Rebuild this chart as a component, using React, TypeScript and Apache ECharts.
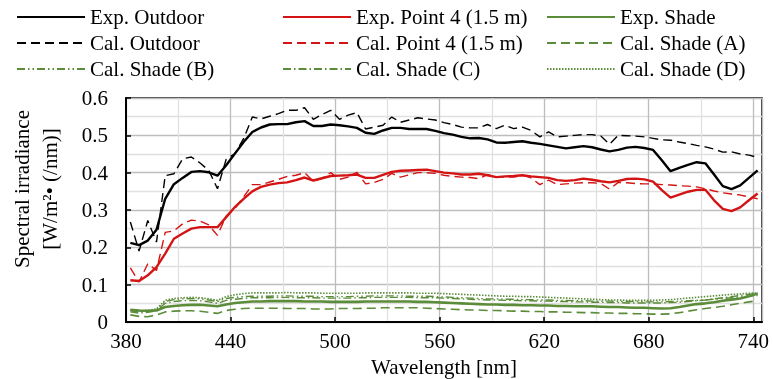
import React, { useEffect, useRef } from "react";
import * as echarts from "echarts";

// Wavelength bins (nm), 5 nm steps centred on x.5
const wavelengths: number[] = Array.from({ length: 73 }, (_, i) => 382.5 + 5 * i);

const xTicks = [380, 440, 500, 560, 620, 680, 740];

const expOutdoor = [
  0.212, 0.206, 0.218, 0.247, 0.330, 0.369, 0.386, 0.402, 0.404, 0.401,
  0.392, 0.420, 0.451, 0.482, 0.509, 0.521, 0.529, 0.530, 0.530, 0.535,
  0.538, 0.525, 0.525, 0.529, 0.527, 0.524, 0.520, 0.507, 0.504, 0.513,
  0.520, 0.520, 0.517, 0.517, 0.517, 0.512, 0.506, 0.502, 0.496, 0.492,
  0.493, 0.489, 0.481, 0.480, 0.482, 0.484, 0.480, 0.477, 0.473, 0.469,
  0.465, 0.468, 0.471, 0.468, 0.462, 0.457, 0.461, 0.467, 0.469, 0.466,
  0.461, 0.433, 0.404, 0.413, 0.421, 0.428, 0.425, 0.395, 0.364, 0.356,
  0.366, 0.386, 0.406,
];

const calOutdoor = [
  0.268, 0.190, 0.272, 0.214, 0.392, 0.397, 0.437, 0.442, 0.426, 0.406,
  0.357, 0.436, 0.451, 0.491, 0.549, 0.544, 0.551, 0.558, 0.567, 0.567,
  0.574, 0.543, 0.556, 0.567, 0.543, 0.554, 0.561, 0.517, 0.522, 0.527,
  0.549, 0.535, 0.541, 0.547, 0.544, 0.541, 0.534, 0.529, 0.522, 0.520,
  0.520, 0.529, 0.518, 0.527, 0.518, 0.522, 0.513, 0.496, 0.509, 0.496,
  0.498, 0.500, 0.502, 0.502, 0.498, 0.476, 0.500, 0.499, 0.498, 0.496,
  0.492, 0.488, 0.487, 0.482, 0.478, 0.473, 0.469, 0.463, 0.455, 0.456,
  0.450, 0.447, 0.441,
];

const expPoint4 = [
  0.112, 0.110, 0.125, 0.147, 0.183, 0.223, 0.237, 0.250, 0.254, 0.254,
  0.254, 0.281, 0.308, 0.330, 0.350, 0.362, 0.368, 0.372, 0.374, 0.380,
  0.387, 0.379, 0.385, 0.391, 0.392, 0.393, 0.395, 0.386, 0.386, 0.394,
  0.402, 0.405, 0.406, 0.407, 0.408, 0.404, 0.400, 0.398, 0.395, 0.395,
  0.397, 0.393, 0.388, 0.390, 0.391, 0.393, 0.390, 0.388, 0.386, 0.380,
  0.378, 0.380, 0.384, 0.381, 0.377, 0.374, 0.378, 0.383, 0.384, 0.382,
  0.376, 0.353, 0.333, 0.341, 0.349, 0.354, 0.354, 0.326, 0.303, 0.297,
  0.307, 0.326, 0.344,
];

const calPoint4 = [
  0.145, 0.107, 0.156, 0.138, 0.240, 0.244, 0.263, 0.273, 0.270, 0.260,
  0.232, 0.284, 0.304, 0.335, 0.368, 0.368, 0.375, 0.382, 0.390, 0.393,
  0.400, 0.377, 0.385, 0.400, 0.382, 0.388, 0.401, 0.370, 0.374, 0.382,
  0.398, 0.388, 0.394, 0.400, 0.400, 0.398, 0.393, 0.390, 0.388, 0.387,
  0.384, 0.395, 0.388, 0.388, 0.388, 0.393, 0.386, 0.368, 0.380, 0.368,
  0.370, 0.372, 0.373, 0.373, 0.371, 0.356, 0.374, 0.373, 0.371, 0.370,
  0.370, 0.368, 0.367, 0.365, 0.364, 0.362, 0.357, 0.351, 0.346, 0.343,
  0.340, 0.335, 0.330,
];

const expShade = [
  0.033, 0.031, 0.030, 0.031, 0.040, 0.043, 0.045, 0.046, 0.046, 0.044,
  0.042, 0.047, 0.051, 0.053, 0.055, 0.055, 0.056, 0.056, 0.056, 0.056,
  0.055, 0.055, 0.055, 0.054, 0.054, 0.054, 0.054, 0.055, 0.055, 0.055,
  0.055, 0.055, 0.055, 0.054, 0.054, 0.053, 0.052, 0.051, 0.050, 0.049,
  0.048, 0.047, 0.047, 0.046, 0.046, 0.045, 0.045, 0.044, 0.044, 0.043,
  0.043, 0.042, 0.042, 0.042, 0.041, 0.040, 0.040, 0.039, 0.038, 0.038,
  0.037, 0.036, 0.037, 0.040, 0.044, 0.048, 0.050, 0.053, 0.057, 0.060,
  0.063, 0.069, 0.076,
];

const calShadeA = [
  0.019, 0.015, 0.014, 0.019, 0.027, 0.029, 0.030, 0.030, 0.029, 0.026,
  0.023, 0.031, 0.034, 0.036, 0.037, 0.037, 0.037, 0.037, 0.036, 0.036,
  0.036, 0.035, 0.035, 0.035, 0.036, 0.036, 0.036, 0.037, 0.037, 0.038,
  0.038, 0.038, 0.038, 0.038, 0.037, 0.036, 0.035, 0.034, 0.033, 0.032,
  0.032, 0.031, 0.031, 0.030, 0.029, 0.029, 0.028, 0.028, 0.027, 0.027,
  0.026, 0.026, 0.025, 0.025, 0.024, 0.024, 0.023, 0.023, 0.022, 0.022,
  0.021, 0.021, 0.022, 0.025, 0.029, 0.033, 0.036, 0.039, 0.042, 0.046,
  0.050, 0.054, 0.057,
];

const calShadeB = [
  0.030, 0.027, 0.029, 0.033, 0.055, 0.060, 0.062, 0.063, 0.062, 0.059,
  0.055, 0.063, 0.066, 0.068, 0.069, 0.069, 0.069, 0.070, 0.070, 0.069,
  0.069, 0.069, 0.068, 0.068, 0.068, 0.068, 0.069, 0.069, 0.070, 0.070,
  0.070, 0.070, 0.069, 0.069, 0.069, 0.068, 0.067, 0.066, 0.065, 0.064,
  0.063, 0.062, 0.062, 0.061, 0.061, 0.060, 0.060, 0.059, 0.059, 0.058,
  0.058, 0.057, 0.057, 0.056, 0.056, 0.056, 0.055, 0.055, 0.055, 0.054,
  0.054, 0.054, 0.055, 0.056, 0.057, 0.058, 0.059, 0.061, 0.063, 0.065,
  0.067, 0.069, 0.071,
];

const calShadeC = [
  0.027, 0.024, 0.026, 0.030, 0.050, 0.055, 0.057, 0.058, 0.057, 0.054,
  0.050, 0.058, 0.061, 0.063, 0.065, 0.065, 0.065, 0.066, 0.066, 0.065,
  0.065, 0.065, 0.064, 0.064, 0.064, 0.064, 0.065, 0.065, 0.066, 0.066,
  0.066, 0.066, 0.066, 0.065, 0.065, 0.065, 0.064, 0.063, 0.062, 0.061,
  0.060, 0.059, 0.059, 0.058, 0.058, 0.057, 0.057, 0.056, 0.056, 0.055,
  0.055, 0.054, 0.054, 0.053, 0.053, 0.052, 0.052, 0.051, 0.051, 0.051,
  0.051, 0.051, 0.052, 0.053, 0.055, 0.057, 0.059, 0.062, 0.065, 0.068,
  0.071, 0.074, 0.077,
];

const calShadeD = [
  0.032, 0.029, 0.031, 0.035, 0.058, 0.063, 0.065, 0.066, 0.065, 0.062,
  0.058, 0.068, 0.073, 0.076, 0.078, 0.078, 0.078, 0.078, 0.079, 0.078,
  0.078, 0.078, 0.077, 0.077, 0.077, 0.077, 0.077, 0.078, 0.078, 0.078,
  0.078, 0.078, 0.078, 0.077, 0.077, 0.077, 0.076, 0.075, 0.074, 0.073,
  0.072, 0.071, 0.070, 0.069, 0.069, 0.068, 0.068, 0.067, 0.066, 0.065,
  0.064, 0.063, 0.062, 0.061, 0.060, 0.059, 0.059, 0.058, 0.058, 0.058,
  0.058, 0.059, 0.060, 0.062, 0.064, 0.066, 0.068, 0.070, 0.072, 0.074,
  0.075, 0.077, 0.078,
];

const FONT = "'Liberation Serif', 'Times New Roman', serif";
const BLACK = "#000000";
const RED = "#d41414";
const GREEN = "#5b8c3a";

export default function App() {
  const ref = useRef<HTMLDivElement>(null);

  useEffect(() => {
    if (!ref.current) return;
    const chart = echarts.init(ref.current, null, { renderer: "svg" });

    const mk = (name: string, data: number[], color: string, width: number, type: any) => ({
      name,
      type: "line",
      data: wavelengths.map((w, i) => [w, data[i]]),
      symbol: "none",
      showSymbol: false,
      silent: true,
      lineStyle: { color, width, type, cap: "butt" },
      itemStyle: { color },
      emphasis: { disabled: true },
    });

    const legendBase = {
      orient: "vertical",
      top: 6,
      padding: 0,
      itemWidth: 68,
      itemHeight: 14,
      itemGap: 4,
      selectedMode: false,
      itemStyle: { opacity: 0, borderWidth: 0 },
      textStyle: { fontFamily: FONT, fontSize: 21, color: "#000", lineHeight: 22 },
    };

    const axisLabelStyle = { fontFamily: FONT, fontSize: 21, color: "#000" };

    chart.setOption({
      animation: false,
      legend: [
        { ...legendBase, left: 16, data: ["Exp. Outdoor", "Cal. Outdoor", "Cal. Shade (B)"] },
        { ...legendBase, left: 282, data: ["Exp. Point 4 (1.5 m)", "Cal. Point 4 (1.5 m)", "Cal. Shade (C)"] },
        { ...legendBase, left: 546, data: ["Exp. Shade", "Cal. Shade (A)", "Cal. Shade (D)"] },
      ],
      grid: {
        left: 126,
        right: 11,
        top: 98,
        bottom: 57,
        show: true,
        containLabel: false,
        outerBoundsMode: "none",
        borderColor: "#000",
        borderWidth: 1.5,
      },
      xAxis: {
        type: "value",
        min: xTicks[0],
        max: 745,
        interval: 60,
        name: "Wavelength [nm]",
        nameLocation: "middle",
        nameGap: 34,
        nameTextStyle: { fontFamily: FONT, fontSize: 21, color: "#000", lineHeight: 22 },
        axisLine: { show: true, onZero: false, lineStyle: { color: "#000", width: 2 } },
        axisTick: { show: true, inside: true, length: 5, lineStyle: { color: "#000", width: 1.5 } },
        axisLabel: {
          ...axisLabelStyle,
          margin: 8,
          showMaxLabel: false,
          formatter: (v: number) => (xTicks.includes(v) ? String(v) : ""),
        },
        splitLine: { show: true, lineStyle: { color: "#bdbdbd", width: 1.3 } },
        minorTick: { show: false, splitNumber: 2 },
        minorSplitLine: { show: true, lineStyle: { color: "#e0e0e0", width: 1.3 } },
      },
      yAxis: {
        type: "value",
        min: 0,
        max: 0.6,
        interval: 0.1,
        axisLine: { show: true, lineStyle: { color: "#000", width: 2 } },
        axisTick: { show: true, inside: true, length: 5, lineStyle: { color: "#000", width: 1.5 } },
        axisLabel: { ...axisLabelStyle, margin: 18 },
        splitLine: { show: true, lineStyle: { color: "#bdbdbd", width: 1.3 } },
        minorTick: { show: false, splitNumber: 2 },
        minorSplitLine: { show: true, lineStyle: { color: "#e0e0e0", width: 1.3 } },
      },
      graphic: [
        {
          type: "text",
          x: 22,
          y: 189,
          rotation: Math.PI / 2,
          silent: true,
          style: {
            text: "Spectral irradiance",
            fontFamily: FONT,
            fontSize: 21,
            fill: "#000",
            align: "center",
            verticalAlign: "middle",
          },
        },
        {
          type: "text",
          x: 50,
          y: 189,
          rotation: Math.PI / 2,
          silent: true,
          style: {
            text: "[W/m²• (/nm)]",
            fontFamily: FONT,
            fontSize: 21,
            fill: "#000",
            align: "center",
            verticalAlign: "middle",
          },
        },
      ],
      series: [
        mk("Exp. Outdoor", expOutdoor, BLACK, 2.4, "solid"),
        mk("Exp. Point 4 (1.5 m)", expPoint4, RED, 2.4, "solid"),
        mk("Exp. Shade", expShade, GREEN, 2.6, "solid"),
        mk("Cal. Outdoor", calOutdoor, BLACK, 1.4, [9, 5]),
        mk("Cal. Point 4 (1.5 m)", calPoint4, RED, 1.4, [9, 5]),
        mk("Cal. Shade (A)", calShadeA, GREEN, 1.6, [9, 5]),
        mk("Cal. Shade (B)", calShadeB, GREEN, 1.4, [8, 3, 1.5, 3, 1.5, 3]),
        mk("Cal. Shade (C)", calShadeC, GREEN, 1.4, [8, 3, 1.5, 3]),
        mk("Cal. Shade (D)", calShadeD, GREEN, 1.6, [1.5, 1.5]),
      ],
    });

    return () => chart.dispose();
  }, []);

  return (
    <div
      ref={ref}
      style={{ position: "fixed", left: 0, top: 0, width: 773, height: 379 }}
    />
  );
}
